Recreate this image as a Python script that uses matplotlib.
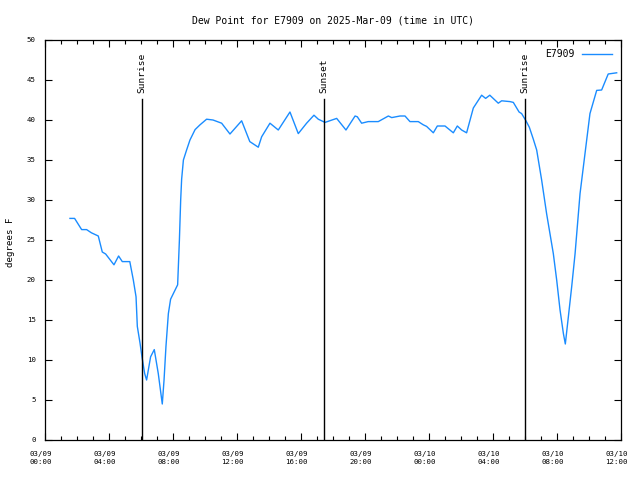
import matplotlib
matplotlib.use("Agg")
import matplotlib.pyplot as plt
from matplotlib.ticker import MultipleLocator
from matplotlib.transforms import ScaledTranslation

# hours since 2025-03-09 00:00 UTC
hours = [1.56, 1.85, 2.29, 2.6, 2.9, 3.33, 3.58, 3.79, 4.31, 4.6, 4.83, 5.3, 5.52, 5.69,
         5.77, 5.94, 6.06, 6.23, 6.35, 6.6, 6.83, 7.08, 7.33, 7.44, 7.56, 7.71, 7.85,
         8.29, 8.4, 8.48, 8.54, 8.65, 8.85, 9.06, 9.38, 9.69, 10.1, 10.5, 11.04, 11.56,
         12.29, 12.8, 13.33, 13.54, 14.06, 14.58, 15.31, 15.83, 16.35, 16.81, 17.08,
         17.5, 18.23, 18.81, 19.38, 19.52, 19.79, 20.2, 20.83, 21.46, 21.67, 22.19,
         22.5, 22.81, 23.33, 23.64, 23.85, 24.27, 24.52, 25.0, 25.52, 25.77, 26.04,
         26.35, 26.77, 27.29, 27.54, 27.8, 28.33, 28.54, 29.06, 29.27, 29.63, 29.79,
         30.06, 30.27, 30.52, 30.73, 31.04, 31.35, 31.77, 31.98, 32.19, 32.4, 32.52,
         32.71, 32.92, 33.13, 33.44, 33.75, 34.06, 34.48, 34.79, 35.2, 35.73]
dewpoint = [27.7, 27.7, 26.3, 26.3, 25.9, 25.5, 23.5, 23.25, 21.9, 23.0, 22.3, 22.3, 20.0, 17.9,
            14.2, 12.1, 10.4, 8.3, 7.5, 10.4, 11.3, 8.3, 4.5, 7.5, 11.7, 15.8, 17.6,
            19.4, 25.0, 30.0, 32.6, 35.0, 36.25, 37.5, 38.8, 39.4, 40.1, 40.0, 39.6, 38.25,
            39.9, 37.3, 36.6, 37.9, 39.6, 38.75, 41.0, 38.3, 39.6, 40.6, 40.1,
            39.7, 40.2, 38.75, 40.5, 40.4, 39.6, 39.8, 39.8, 40.5, 40.3, 40.5,
            40.5, 39.8, 39.8, 39.4, 39.2, 38.4, 39.25, 39.25, 38.4, 39.25, 38.75,
            38.4, 41.5, 43.1, 42.7, 43.1, 42.1, 42.4, 42.3, 42.2, 41.0, 40.8,
            39.9, 39.1, 37.6, 36.25, 32.5, 28.3, 23.3, 20.0, 16.25, 13.3, 12.0,
            15.4, 19.2, 23.3, 30.8, 35.8, 40.8, 43.7, 43.75, 45.75, 45.9]

events = ["Sunrise", "Sunset", "Sunrise"]
event_hours = [6.06, 17.44, 30.0]

tick_hours = [0, 4, 8, 12, 16, 20, 24, 28, 32, 36]
tick_labels = ["03/09\n00:00", "03/09\n04:00", "03/09\n08:00", "03/09\n12:00",
               "03/09\n16:00", "03/09\n20:00", "03/10\n00:00", "03/10\n04:00",
               "03/10\n08:00", "03/10\n12:00"]

plt.rcParams['font.family'] = ['DejaVu Sans Mono']

fig = plt.figure(figsize=(6.4, 4.8), dpi=100)
ax = fig.add_axes([45/640, 40/480, 576/640, 400/480])

ax.plot(hours, dewpoint, color='#1a8cff', linewidth=1, label='E7909')

for name, h in zip(events, event_hours):
    ax.plot([h, h], [0, 42.6], color='black', linewidth=1)
    ax.text(h, 43.4, name, rotation=90, ha='center', va='bottom', fontsize=6.8)

ax.set_xlim(0, 36)
ax.set_ylim(0, 50)
ax.set_xticks(tick_hours)
ax.set_xticklabels(tick_labels, fontsize=5.3, linespacing=1.45)
ax.xaxis.set_minor_locator(MultipleLocator(1))
ax.yaxis.set_major_locator(MultipleLocator(5))
ax.tick_params(axis='y', labelsize=5.3, pad=6.5)
ax.tick_params(which='both', direction='in', top=True, right=True, width=0.8)
ax.tick_params(which='major', length=5)
ax.tick_params(which='minor', length=3)
ax.tick_params(axis='x', which='major', pad=8)
shift = ScaledTranslation(-4.5/100, 0, fig.dpi_scale_trans)
for lab in ax.get_xticklabels():
    lab.set_transform(lab.get_transform() + shift)
for s in ax.spines.values():
    s.set_linewidth(0.9)

ax.set_ylabel('degrees F', fontsize=6.6)
ax.yaxis.set_label_coords(-0.052, 0.495)
ax.set_title('Dew Point for E7909 on 2025-Mar-09 (time in UTC)', fontsize=7, pad=12)

leg = ax.legend(loc='upper right', frameon=False, fontsize=7, markerfirst=False,
                handlelength=3.1, borderaxespad=0.55, handletextpad=0.7)

fig.savefig('out.png', dpi=100)
